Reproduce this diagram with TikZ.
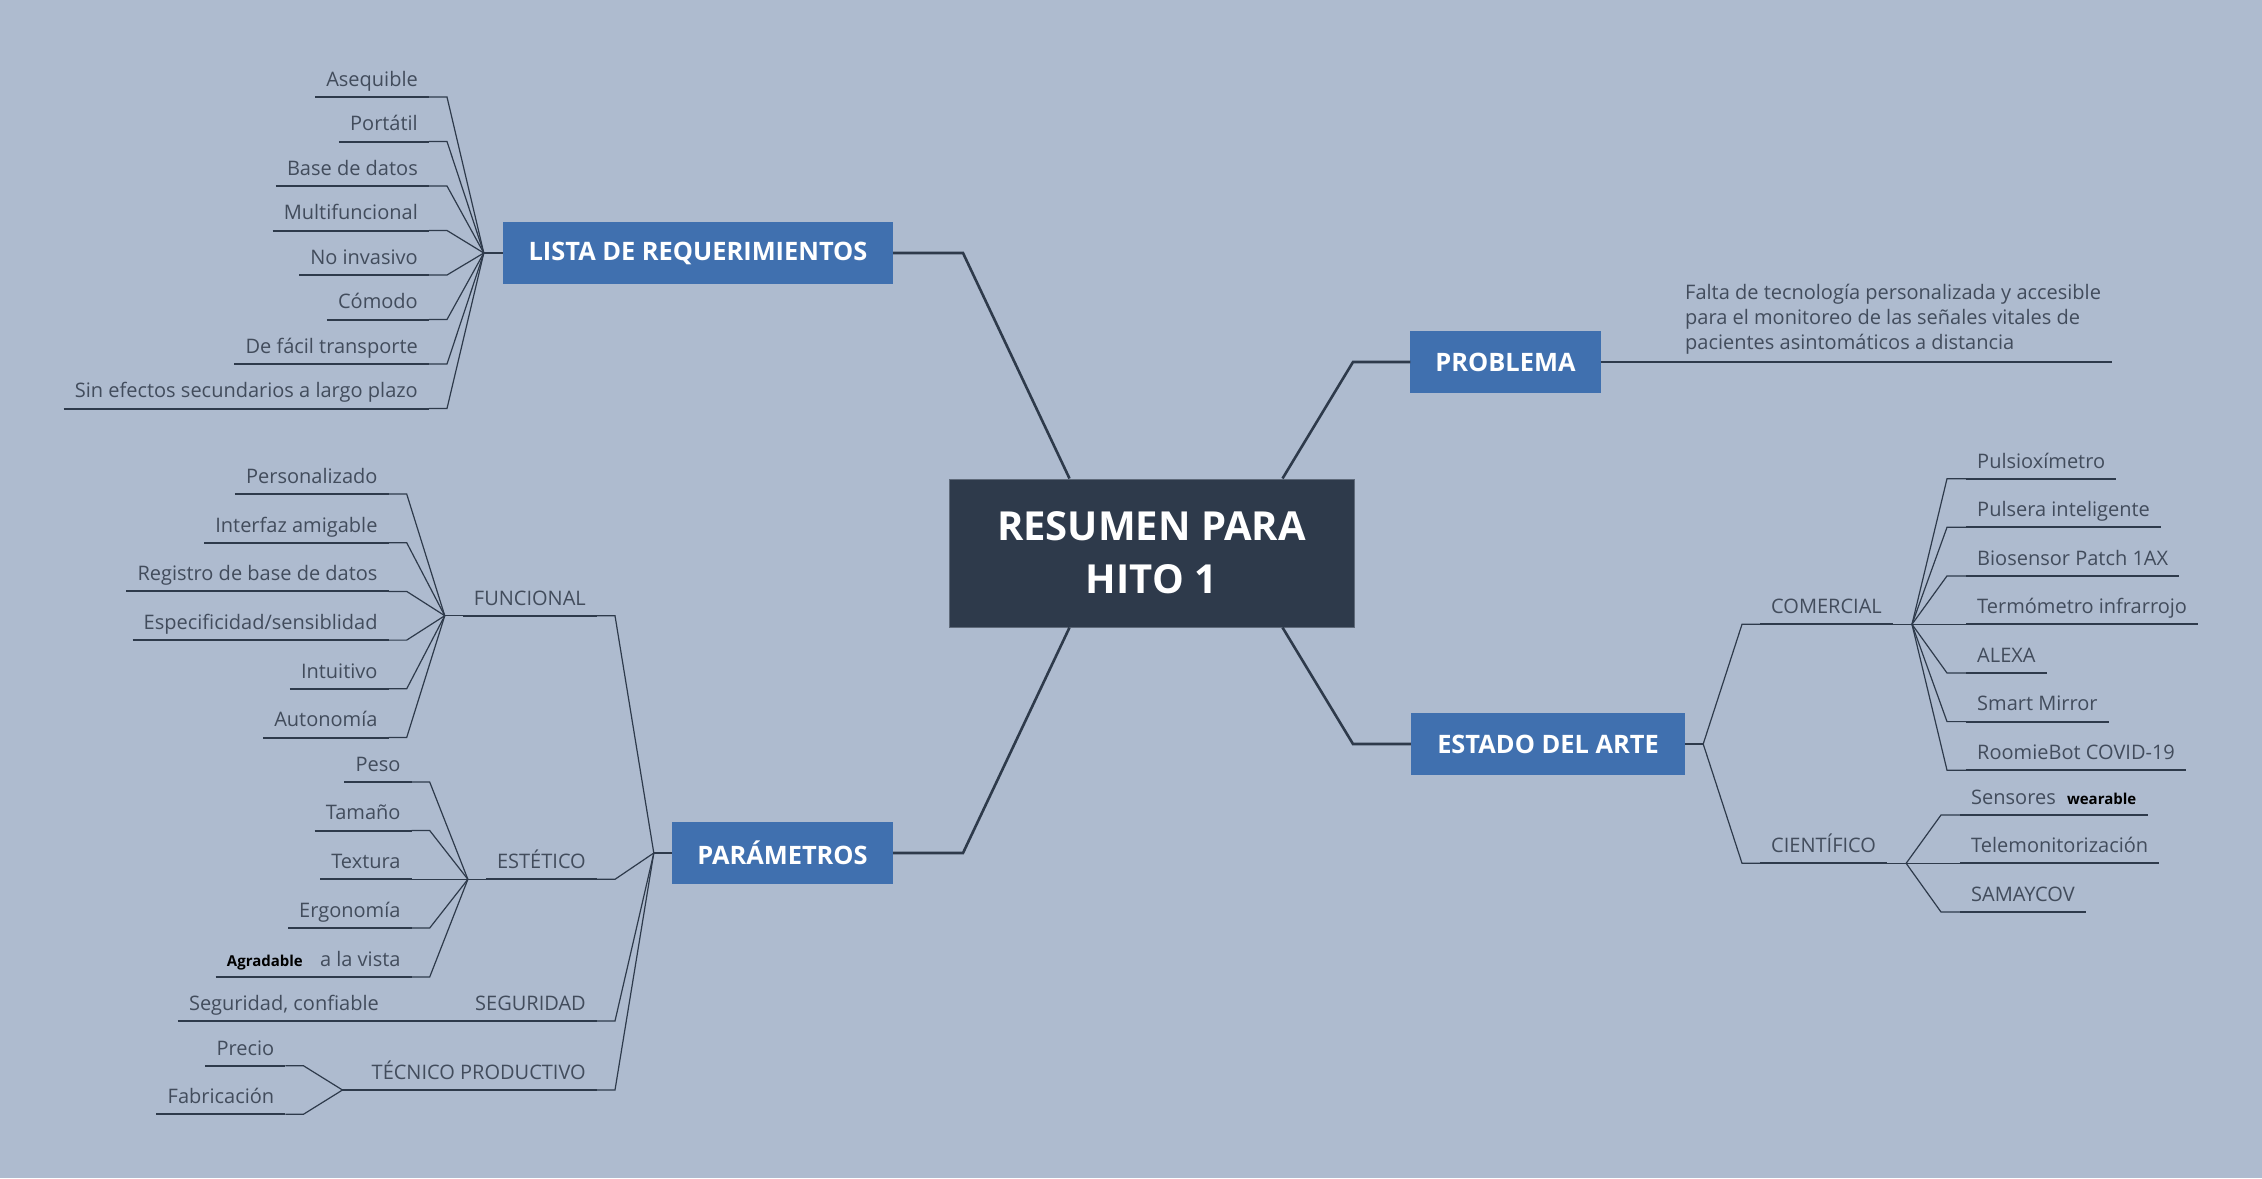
\documentclass[tikz,border=0pt]{standalone}
\usepackage{fontspec}
\setmainfont{Open Sans}
\usepackage{tikz}
\definecolor{bgcol}{HTML}{AEBBCF}
\definecolor{topicblue}{HTML}{4070AF}
\definecolor{hitodark}{HTML}{2E3A4B}
\definecolor{linecol}{HTML}{2E3A4B}
\definecolor{txtcol}{HTML}{424C5C}
\newcommand{\leaffont}{\fontsize{20}{25}\selectfont}
\newcommand{\topicfont}{\fontsize{25.4}{30}\selectfont\bfseries}
\newcommand{\hitofont}{\fontsize{40}{53}\selectfont\bfseries}
\newcommand{\tagword}[1]{{\fontsize{15}{18}\selectfont\bfseries\color{black}#1}}

\begin{document}
\begin{tikzpicture}[x=1pt,y=-1pt,
  uline/.style={draw=linecol, line width=2pt},
  conn/.style={draw=linecol, line width=1.2pt},
  mainline/.style={draw=linecol, line width=2.6pt},
  word/.style={font=\leaffont, text=txtcol, inner xsep=11pt,
    append after command={(\tikzlastnode.south west) edge[uline] (\tikzlastnode.south east)}},
  leaf/.style={word, inner ysep=10.5pt, text height=15pt, text depth=0pt},
  lleaf/.style={leaf, anchor=south east},
  rleaf/.style={leaf, anchor=south west},
  topic/.style={fill=topicblue, text=white, font=\topicfont, minimum height=62pt, inner xsep=25pt},
  hito/.style={fill=hitodark, draw={rgb,255:red,95;green,106;blue,122}, line width=1pt, text=white,
    font=\hitofont, align=center, minimum width=405pt, minimum height=148pt}]

  % Background
  \fill[bgcol] (0,0) rectangle (2262,1178);

  % Main nodes
  \node[hito] (res) at (1151.5,553) {RESUMEN PARA\\HITO 1};
  \node[topic, minimum width=390pt] (lista) at (698,253) {LISTA DE REQUERIMIENTOS};
  \node[topic, minimum width=189pt] (problema) at (1505.5,362) {PROBLEMA};
  \node[topic, minimum width=221pt] (param) at (782.5,853) {PARÁMETROS};
  \node[topic, minimum width=274pt] (estado) at (1548,744) {ESTADO DEL ARTE};

  % Lista de requerimientos
  \node[lleaf] (ase) at (429,97) {Asequible};
  \node[lleaf] (por) at (429,141.5) {Portátil};
  \node[lleaf] (bas) at (429,186) {Base de datos};
  \node[lleaf] (mul) at (429,230.5) {Multifuncional};
  \node[lleaf] (noi) at (429,275) {No invasivo};
  \node[lleaf] (com) at (429,319.5) {Cómodo};
  \node[lleaf] (fac) at (429,364) {De fácil transporte};
  \node[lleaf] (sin) at (429,408.5) {Sin efectos secundarios a largo plazo};

  % Problema
  \node[word, align=left, inner ysep=8pt, anchor=south west] (falta) at (1674,362)
    {Falta de tecnología personalizada y accesible\\para el monitoreo de las señales vitales de\\pacientes asintomáticos a distancia};

  % Parametros
  \node[lleaf] (fun) at (597,615.7) {FUNCIONAL};
  \node[lleaf] (est) at (597,879.3) {ESTÉTICO};
  \node[lleaf] (seg) at (597,1021) {SEGURIDAD};
  \node[lleaf] (tec) at (597,1090) {TÉCNICO PRODUCTIVO};

  \node[lleaf] (per) at (388.7,494) {Personalizado};
  \node[lleaf] (int) at (388.7,542.7) {Interfaz amigable};
  \node[lleaf] (reg) at (388.7,591.4) {Registro de base de datos};
  \node[lleaf] (esp) at (388.7,640.1) {Especificidad/sensiblidad};
  \node[lleaf] (itu) at (388.7,688.8) {Intuitivo};
  \node[lleaf] (aut) at (388.7,737.5) {Autonomía};

  \node[lleaf] (pes) at (411.7,782) {Peso};
  \node[lleaf] (tam) at (411.7,830.5) {Tamaño};
  \node[lleaf] (tex) at (411.7,879.3) {Textura};
  \node[lleaf] (erg) at (411.7,928) {Ergonomía};
  \node[lleaf] (agr) at (411.7,977) {\tagword{Agradable}\hspace{12pt} a la vista};

  \node[lleaf] (sgc) at (390,1021) {Seguridad, confiable};

  \node[lleaf] (pre) at (285.4,1065.7) {Precio};
  \node[lleaf] (fab) at (285.4,1114.3) {Fabricación};

  % Estado del arte
  \node[rleaf] (come) at (1760,624.3) {COMERCIAL};
  \node[rleaf] (cien) at (1760,863.3) {CIENTÍFICO};

  \node[rleaf] (pul) at (1966,478.7) {Pulsioxímetro};
  \node[rleaf] (pin) at (1966,527.3) {Pulsera inteligente};
  \node[rleaf] (bio) at (1966,575.9) {Biosensor Patch 1AX};
  \node[rleaf] (ter) at (1966,624.3) {Termómetro infrarrojo};
  \node[rleaf] (ale) at (1966,673) {ALEXA};
  \node[rleaf] (sma) at (1966,721.6) {Smart Mirror};
  \node[rleaf] (roo) at (1966,770.2) {RoomieBot COVID-19};

  \node[rleaf] (sen) at (1960,815) {Sensores\hspace{6pt} \tagword{wearable}};
  \node[rleaf] (tel) at (1960,863.3) {Telemonitorización};
  \node[rleaf] (sam) at (1960,912) {SAMAYCOV};

  % Hubs
  \coordinate (cLista) at (963,253);
  \coordinate (cProb) at (1353,362);
  \coordinate (cPar) at (963,853);
  \coordinate (cEst) at (1353,744);
  \coordinate (hL) at ([xshift=-19pt]lista.west);
  \coordinate (hP) at ([xshift=-18pt]param.west);
  \coordinate (hE) at ([xshift=18pt]estado.east);
  \coordinate (hF) at ([xshift=-18pt]fun.south west);
  \coordinate (hEs) at ([xshift=-18pt]est.south west);
  \coordinate (hS) at ([xshift=-18pt]seg.south west);
  \coordinate (hT) at ([xshift=-18pt]tec.south west);
  \coordinate (hCom) at ([xshift=19pt]come.south east);
  \coordinate (hCie) at ([xshift=19pt]cien.south east);

  % Main lines
  \draw[mainline] ([xshift=121pt]res.north west) -- (cLista) -- (lista.east);
  \draw[mainline] ([xshift=-72pt]res.north east) -- (cProb) -- (problema.west);
  \draw[mainline] ([xshift=121pt]res.south west) -- (cPar) -- (param.east);
  \draw[mainline] ([xshift=-72pt]res.south east) -- (cEst) -- (estado.west);
  \draw[mainline] (lista.west) -- (hL);
  \draw[mainline] (param.west) -- (hP);
  \draw[conn, line width=2pt] (estado.east) -- (hE);
  \draw[conn, line width=2pt] (problema.east) -- (falta.south west);

  % Lista lines
  \draw[conn] (ase.south east) -- ++(18,0) -- (hL);
  \draw[conn] (por.south east) -- ++(18,0) -- (hL);
  \draw[conn] (bas.south east) -- ++(18,0) -- (hL);
  \draw[conn] (mul.south east) -- ++(18,0) -- (hL);
  \draw[conn] (noi.south east) -- ++(18,0) -- (hL);
  \draw[conn] (com.south east) -- ++(18,0) -- (hL);
  \draw[conn] (fac.south east) -- ++(18,0) -- (hL);
  \draw[conn] (sin.south east) -- ++(18,0) -- (hL);

  % Parametros lines
  \draw[conn] (fun.south east) -- ++(18,0) -- (hP);
  \draw[conn] (est.south east) -- ++(18,0) -- (hP);
  \draw[conn] (seg.south east) -- ++(18,0) -- (hP);
  \draw[conn] (tec.south east) -- ++(18,0) -- (hP);
  \draw[conn] (per.south east) -- ++(18,0) -- (hF);
  \draw[conn] (int.south east) -- ++(18,0) -- (hF);
  \draw[conn] (reg.south east) -- ++(18,0) -- (hF);
  \draw[conn] (esp.south east) -- ++(18,0) -- (hF);
  \draw[conn] (itu.south east) -- ++(18,0) -- (hF);
  \draw[conn] (aut.south east) -- ++(18,0) -- (hF);
  \draw[conn] (pes.south east) -- ++(18,0) -- (hEs);
  \draw[conn] (tam.south east) -- ++(18,0) -- (hEs);
  \draw[conn] (tex.south east) -- ++(18,0) -- (hEs);
  \draw[conn] (erg.south east) -- ++(18,0) -- (hEs);
  \draw[conn] (agr.south east) -- ++(18,0) -- (hEs);
  \draw[conn] (sgc.south east) -- (hS) -- (seg.south west);
  \draw[conn] (pre.south east) -- ++(18,0) -- (hT);
  \draw[conn] (fab.south east) -- ++(18,0) -- (hT);
  \draw[conn] (hT) -- (tec.south west);
  \draw[conn] (hF) -- (fun.south west);
  \draw[conn] (hEs) -- (est.south west);

  % Estado del arte lines
  \draw[conn] (hE) -- ([xshift=-18pt]come.south west) -- (come.south west);
  \draw[conn] (hE) -- ([xshift=-18pt]cien.south west) -- (cien.south west);
  \draw[conn] (come.south east) -- (hCom);
  \draw[conn] (cien.south east) -- (hCie);
  \draw[conn] (hCom) -- ([xshift=-19pt]pul.south west) -- (pul.south west);
  \draw[conn] (hCom) -- ([xshift=-19pt]pin.south west) -- (pin.south west);
  \draw[conn] (hCom) -- ([xshift=-19pt]bio.south west) -- (bio.south west);
  \draw[conn] (hCom) -- ([xshift=-19pt]ter.south west) -- (ter.south west);
  \draw[conn] (hCom) -- ([xshift=-19pt]ale.south west) -- (ale.south west);
  \draw[conn] (hCom) -- ([xshift=-19pt]sma.south west) -- (sma.south west);
  \draw[conn] (hCom) -- ([xshift=-19pt]roo.south west) -- (roo.south west);
  \draw[conn] (hCie) -- ([xshift=-19pt]sen.south west) -- (sen.south west);
  \draw[conn] (hCie) -- ([xshift=-19pt]tel.south west) -- (tel.south west);
  \draw[conn] (hCie) -- ([xshift=-19pt]sam.south west) -- (sam.south west);
\end{tikzpicture}
\end{document}
